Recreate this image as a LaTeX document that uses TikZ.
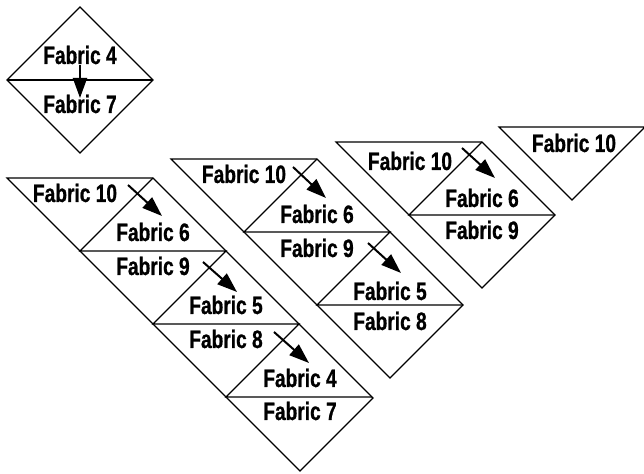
\documentclass[tikz,border=0pt]{standalone}
\usepackage{fontspec}
\setmainfont{Liberation Sans}[FakeStretch=0.76, BoldFeatures={FakeBold=0.8}]
\usepackage{tikz}
\usetikzlibrary{arrows.meta}

\begin{document}
\begin{tikzpicture}[x=0.5pt, y=-0.5pt, >=Triangle,
  outline/.style={line width=0.6pt},
  fabric/.style={font=\fontsize{12.6}{14}\selectfont\bfseries, inner sep=0pt},
  turn/.style={->, line width=1pt, >={Triangle[length=10pt, width=7pt]}}]

\useasboundingbox (0,0) rectangle (644,474);

% Single square, top left
\draw[outline] (7,80) -- (80,7) -- (153,80) -- (80,153) -- cycle;
\draw[outline] (7,80) -- (153,80);
\node[fabric] (sq4) at (80,55) {Fabric 4};
\node[fabric] (sq7) at (80,104) {Fabric 7};
\coordinate (sqs) at (80,65);
\coordinate (sqe) at (80,98);
\draw[turn] (sqs) -- (sqe);

% Long row, left
\draw[outline] (7,178) -- (153,178) -- (373,398) -- (300,471) -- cycle;
\draw[outline] (153,178) -- (80,251) -- (226,251) -- (153,324) -- (299,324) -- (226,397) -- (372,397);
\node[fabric] (a10) at (75,193) {Fabric 10};
\node[fabric] (a6) at (153,232) {Fabric 6};
\node[fabric] (a9) at (153,266) {Fabric 9};
\node[fabric] (a5) at (226,305) {Fabric 5};
\node[fabric] (a8) at (226,339) {Fabric 8};
\node[fabric] (a4) at (300,378) {Fabric 4};
\node[fabric] (a7) at (300,411) {Fabric 7};
\coordinate (a1s) at (128,185); \coordinate (a1e) at (162,216);
\coordinate (a2s) at (203,262); \coordinate (a2e) at (237,292);
\coordinate (a3s) at (274,332); \coordinate (a3e) at (309,363);
\foreach \n in {1,2,3} {
  \draw[turn] (a\n s) -- (a\n e);
}

% Middle row
\draw[outline] (171,159) -- (317,159) -- (463,305) -- (390,378) -- cycle;
\draw[outline] (317,159) -- (244,232) -- (390,232) -- (317,305) -- (463,305);
\node[fabric] (b10) at (244,174) {Fabric 10};
\node[fabric] (b6) at (317,214) {Fabric 6};
\node[fabric] (b9) at (317,248) {Fabric 9};
\node[fabric] (b5) at (390,291) {Fabric 5};
\node[fabric] (b8) at (390,321) {Fabric 8};
\coordinate (b1s) at (293,167); \coordinate (b1e) at (326,198);
\coordinate (b2s) at (368,243); \coordinate (b2e) at (401,273);
\foreach \n in {1,2} {
  \draw[turn] (b\n s) -- (b\n e);
}

% Short row
\draw[outline] (336,142) -- (482,142) -- (555,215) -- (482,288) -- cycle;
\draw[outline] (482,142) -- (409,215) -- (555,215);
\node[fabric] (c10) at (410,161) {Fabric 10};
\node[fabric] (c6) at (482,198) {Fabric 6};
\node[fabric] (c9) at (482,230) {Fabric 9};
\coordinate (c1s) at (462,148); \coordinate (c1e) at (495,178);
\draw[turn] (c1s) -- (c1e);

% Corner triangle
\draw[outline] (499,127) -- (645,127) -- (572,200) -- cycle;
\node[fabric] (d10) at (574,143) {Fabric 10};

\end{tikzpicture}
\end{document}
